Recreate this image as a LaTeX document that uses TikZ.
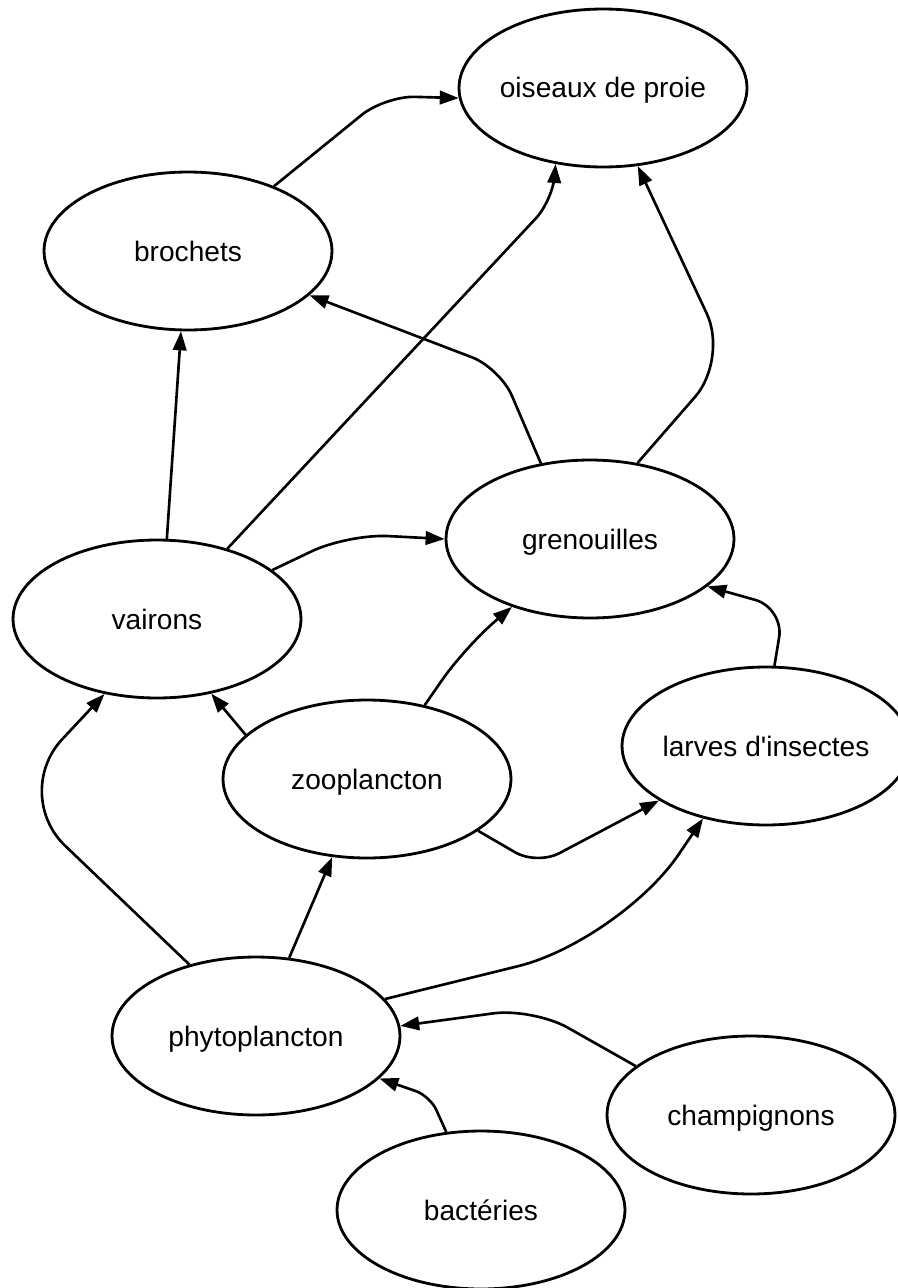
\documentclass[tikz,border=0pt]{standalone}
\usepackage{fontspec}
\setmainfont{Liberation Sans}
\usetikzlibrary{arrows.meta,shapes.geometric}

\begin{document}
\begin{tikzpicture}[
  x=0.02cm, y=-0.02cm,
  taxon/.style={ellipse, draw=black, line width=1.6pt, fill=white, minimum width=5.76cm, minimum height=3.16cm, inner xsep=-3pt, inner ysep=0pt, text height=0.4cm, text depth=0pt, font=\fontsize{16}{19}\selectfont},
  feeds/.style={-{Triangle[length=0.38cm, width=0.27cm]}, line width=1.5pt, draw=black, rounded corners=#1},
  feeds/.default=0.4cm
]
\useasboundingbox (0,0) rectangle (898,1288);
\fill[white] (0,0) rectangle (898,1288);

\node[taxon] (oiseaux) at (603,88) {oiseaux de proie};
\node[taxon] (brochets) at (188,251) {brochets};
\node[taxon] (grenouilles) at (590,539) {grenouilles};
\node[taxon] (vairons) at (157,619) {vairons};
\node[taxon] (zooplancton) at (367,779) {zooplancton};
\node[taxon] (larves) at (766,746) {larves d\textquotesingle insectes};
\node[taxon] (phyto) at (256,1036) {phytoplancton};
\node[taxon] (champignons) at (751,1115) {champignons};
\node[taxon] (bacteries) at (481,1210) {bactéries};

\draw[feeds=0.6cm] (brochets.37) -- (385,96) -- (oiseaux.184);
\draw[feeds] (vairons.83) -- (brochets.265);
\draw[feeds=0.5cm] (vairons.45) -- (553,200) -- (oiseaux.238);
\draw[feeds=0.6cm] (grenouilles.123) -- (500,368) -- (brochets.340);
\draw[feeds=1cm] (grenouilles.58) -- (728,359) -- (oiseaux.294);
\draw[feeds=0.8cm] (vairons.23) -- (348,534) -- (grenouilles.west);
\draw[feeds] (zooplancton.160) -- (vairons.306);
\draw[feeds=0.8cm] (zooplancton.52) -- (465,647) -- (grenouilles.221);
\draw[feeds=0.5cm] (zooplancton.335) -- (537,865) -- (larves.207);
\draw[feeds=0.6cm] (larves.84) -- (784,608) -- (grenouilles.338);
\draw[feeds=1.5cm] (phyto.133) -- (11,794) -- (vairons.235);
\draw[feeds] (phyto.67) -- (zooplancton.246);
\draw[feeds=2.1cm] (phyto.16) -- (620,941) -- (larves.229);
\draw[feeds=0.8cm] (champignons.157) -- (533,1008) -- (phyto.4);
\draw[feeds=0.3cm] (bacteries.114) -- (430,1096) -- (phyto.341);
\end{tikzpicture}
\end{document}
